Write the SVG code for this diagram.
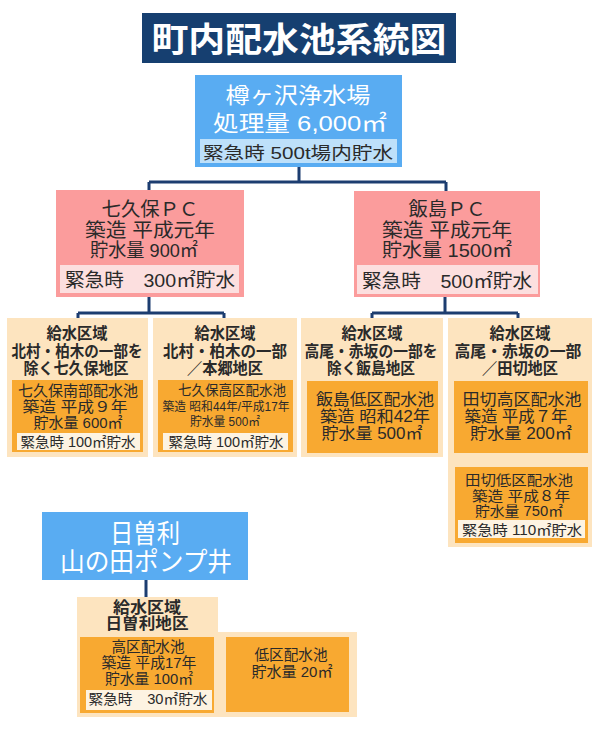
<svg xmlns="http://www.w3.org/2000/svg" width="600" height="750" viewBox="0 0 600 750">
<style>
text{font-family:"Liberation Sans","Noto Sans CJK JP",sans-serif;text-anchor:middle;fill:#2a2a2a;}
.w{fill:#fff;}
.b{font-weight:bold;}
.title{fill:#163f70;}
.blue{fill:#59acf2;}
.bstrip{fill:#bde0fa;}
.pink{fill:#fb9c9c;}
.pstrip{fill:#fcdfdf;}
.beige{fill:#fde4bf;}
.orange{fill:#f8a931;}
.ostrip{fill:#fdf3e2;}
.conn{fill:none;stroke:#1c3d70;stroke-width:3;}
</style>
<rect width="600" height="750" fill="#fff"/>
<g id="title">
<rect class="title" x="142" y="13" width="314" height="50"/>
<text class="w b" x="299" y="52" font-size="34" textLength="295" lengthAdjust="spacingAndGlyphs">町内配水池系統図</text>
</g>
<g id="connectors">
<path class="conn" d="M299 167V182M149 182H446M149 182V190M446 182V191"/>
<path class="conn" d="M149 297V313M78 313H224M78 313V318M224 313V318"/>
<path class="conn" d="M445 297V313M372 313H518M372 313V318M518 313V318"/>
<path class="conn" d="M519 453V467"/>
<path class="conn" d="M146 580V597"/>
<path class="conn" d="M214 677H226"/>
</g>
<g id="plant">
<rect class="blue" x="195" y="75" width="207" height="92"/>
<text class="w" x="298" y="103" font-size="22" textLength="145" lengthAdjust="spacingAndGlyphs">樽ヶ沢浄水場</text>
<text class="w" x="300" y="131" font-size="22" textLength="174" lengthAdjust="spacingAndGlyphs">処理量 6,000㎡</text>
<rect class="bstrip" x="200" y="139" width="197" height="24"/>
<text x="298" y="159" font-size="17" textLength="190" lengthAdjust="spacingAndGlyphs">緊急時 500t場内貯水</text>
</g>
<g id="pc-nanakubo">
<rect class="pink" x="56" y="190" width="188" height="107"/>
<text x="150" y="216" font-size="19" textLength="97" lengthAdjust="spacingAndGlyphs">七久保ＰＣ</text>
<text x="150" y="237" font-size="19" textLength="130" lengthAdjust="spacingAndGlyphs">築造 平成元年</text>
<text x="144" y="257" font-size="19" textLength="108" lengthAdjust="spacingAndGlyphs">貯水量 900㎡</text>
<rect class="pstrip" x="60" y="265" width="179" height="28"/>
<text x="150" y="287" font-size="19" textLength="170" lengthAdjust="spacingAndGlyphs">緊急時　300㎡貯水</text>
</g>
<g id="pc-iijima">
<rect class="pink" x="354" y="191" width="186" height="106"/>
<text x="447" y="216" font-size="19" textLength="77" lengthAdjust="spacingAndGlyphs">飯島ＰＣ</text>
<text x="447" y="237" font-size="19" textLength="130" lengthAdjust="spacingAndGlyphs">築造 平成元年</text>
<text x="447" y="257" font-size="19" textLength="130" lengthAdjust="spacingAndGlyphs">貯水量 1500㎡</text>
<rect class="pstrip" x="357" y="265" width="181" height="29"/>
<text x="447" y="288" font-size="19" textLength="170" lengthAdjust="spacingAndGlyphs">緊急時　500㎡貯水</text>
</g>
<g id="area1">
<rect class="beige" x="7" y="318" width="141" height="139"/>
<text class="b" x="77" y="339" font-size="16" textLength="61" lengthAdjust="spacingAndGlyphs">給水区域</text>
<text class="b" x="77" y="357" font-size="16" textLength="131" lengthAdjust="spacingAndGlyphs">北村・柏木の一部を</text>
<text class="b" x="76" y="374" font-size="16" textLength="105" lengthAdjust="spacingAndGlyphs">除く七久保地区</text>
<rect class="orange" x="12" y="380" width="131" height="72"/>
<text x="78" y="396" font-size="15" textLength="120" lengthAdjust="spacingAndGlyphs">七久保南部配水池</text>
<text x="75" y="412" font-size="15" textLength="105" lengthAdjust="spacingAndGlyphs">築造 平成９年</text>
<text x="78" y="428" font-size="15" textLength="89" lengthAdjust="spacingAndGlyphs">貯水量 600㎡</text>
<rect class="ostrip" x="17" y="433" width="123" height="17"/>
<text x="78" y="447" font-size="14" textLength="115" lengthAdjust="spacingAndGlyphs">緊急時 100㎡貯水</text>
</g>
<g id="area2">
<rect class="beige" x="153" y="318" width="144" height="139"/>
<text class="b" x="225" y="339" font-size="16" textLength="61" lengthAdjust="spacingAndGlyphs">給水区域</text>
<text class="b" x="225" y="357" font-size="16" textLength="124" lengthAdjust="spacingAndGlyphs">北村・柏木の一部</text>
<text class="b" x="225" y="374" font-size="16" textLength="76" lengthAdjust="spacingAndGlyphs">／本郷地区</text>
<rect class="orange" x="158" y="380" width="135" height="72"/>
<text x="232" y="395" font-size="14" textLength="108" lengthAdjust="spacingAndGlyphs">七久保高区配水池</text>
<text x="226" y="411" font-size="12" textLength="127" lengthAdjust="spacingAndGlyphs">築造 昭和44年/平成17年</text>
<text x="225" y="426" font-size="12" textLength="70" lengthAdjust="spacingAndGlyphs">貯水量 500㎡</text>
<rect class="ostrip" x="163" y="433" width="125" height="17"/>
<text x="226" y="447" font-size="14" textLength="115" lengthAdjust="spacingAndGlyphs">緊急時 100㎡貯水</text>
</g>
<g id="area3">
<rect class="beige" x="301" y="318" width="142" height="139"/>
<text class="b" x="372" y="339" font-size="16" textLength="61" lengthAdjust="spacingAndGlyphs">給水区域</text>
<text class="b" x="371" y="357" font-size="16" textLength="133" lengthAdjust="spacingAndGlyphs">高尾・赤坂の一部を</text>
<text class="b" x="371" y="374" font-size="16" textLength="88" lengthAdjust="spacingAndGlyphs">除く飯島地区</text>
<rect class="orange" x="307" y="381" width="131" height="72"/>
<text x="375" y="405" font-size="16" textLength="118" lengthAdjust="spacingAndGlyphs">飯島低区配水池</text>
<text x="375" y="422" font-size="16" textLength="110" lengthAdjust="spacingAndGlyphs">築造 昭和42年</text>
<text x="372" y="439" font-size="16" textLength="101" lengthAdjust="spacingAndGlyphs">貯水量 500㎡</text>
</g>
<g id="area4">
<rect class="beige" x="448" y="318" width="144" height="229"/>
<text class="b" x="520" y="339" font-size="16" textLength="61" lengthAdjust="spacingAndGlyphs">給水区域</text>
<text class="b" x="518" y="357" font-size="16" textLength="127" lengthAdjust="spacingAndGlyphs">高尾・赤坂の一部</text>
<text class="b" x="520" y="374" font-size="16" textLength="76" lengthAdjust="spacingAndGlyphs">／田切地区</text>
<rect class="orange" x="454" y="381" width="134" height="72"/>
<text x="522" y="405" font-size="16" textLength="119" lengthAdjust="spacingAndGlyphs">田切高区配水池</text>
<text x="516" y="422" font-size="16" textLength="103" lengthAdjust="spacingAndGlyphs">築造 平成７年</text>
<text x="521" y="439" font-size="16" textLength="102" lengthAdjust="spacingAndGlyphs">貯水量 200㎡</text>
</g>
<g id="tagiri-low">
<rect class="orange" x="455" y="467" width="133" height="76"/>
<text x="519" y="485" font-size="14" textLength="108" lengthAdjust="spacingAndGlyphs">田切低区配水池</text>
<text x="521" y="501" font-size="14" textLength="98" lengthAdjust="spacingAndGlyphs">築造 平成８年</text>
<text x="519" y="516" font-size="14" textLength="88" lengthAdjust="spacingAndGlyphs">貯水量 750㎡</text>
<rect class="ostrip" x="458" y="520" width="127" height="18"/>
<text x="522" y="535" font-size="14" textLength="120" lengthAdjust="spacingAndGlyphs">緊急時 110㎡貯水</text>
</g>
<g id="hisori">
<rect class="blue" x="42" y="512" width="206" height="68"/>
<text class="w" x="145" y="543" font-size="26" textLength="70" lengthAdjust="spacingAndGlyphs">日曽利</text>
<text class="w" x="146" y="571" font-size="26" textLength="172" lengthAdjust="spacingAndGlyphs">山の田ポンプ井</text>
</g>
<g id="area5">
<path class="beige" d="M77 597H218V632H357V717H77Z"/>
<text class="b" x="147" y="613" font-size="15.5" textLength="68" lengthAdjust="spacingAndGlyphs">給水区域</text>
<text class="b" x="147" y="629" font-size="15.5" textLength="83" lengthAdjust="spacingAndGlyphs">日曽利地区</text>
</g>
<g id="hisori-high">
<rect class="orange" x="80" y="637" width="134" height="76"/>
<text x="148" y="652" font-size="14.5" textLength="73" lengthAdjust="spacingAndGlyphs">高区配水池</text>
<text x="149" y="668" font-size="14.5" textLength="95" lengthAdjust="spacingAndGlyphs">築造 平成17年</text>
<text x="149" y="684" font-size="14.5" textLength="88" lengthAdjust="spacingAndGlyphs">貯水量 100㎡</text>
<rect class="ostrip" x="86" y="690" width="126" height="20"/>
<text x="148" y="704" font-size="14" textLength="119" lengthAdjust="spacingAndGlyphs">緊急時　30㎡貯水</text>
</g>
<g id="hisori-low">
<rect class="orange" x="226" y="637" width="123" height="75"/>
<text x="291" y="660" font-size="15" textLength="73" lengthAdjust="spacingAndGlyphs">低区配水池</text>
<text x="292" y="677" font-size="15" textLength="81" lengthAdjust="spacingAndGlyphs">貯水量 20㎡</text>
</g>
</svg>
